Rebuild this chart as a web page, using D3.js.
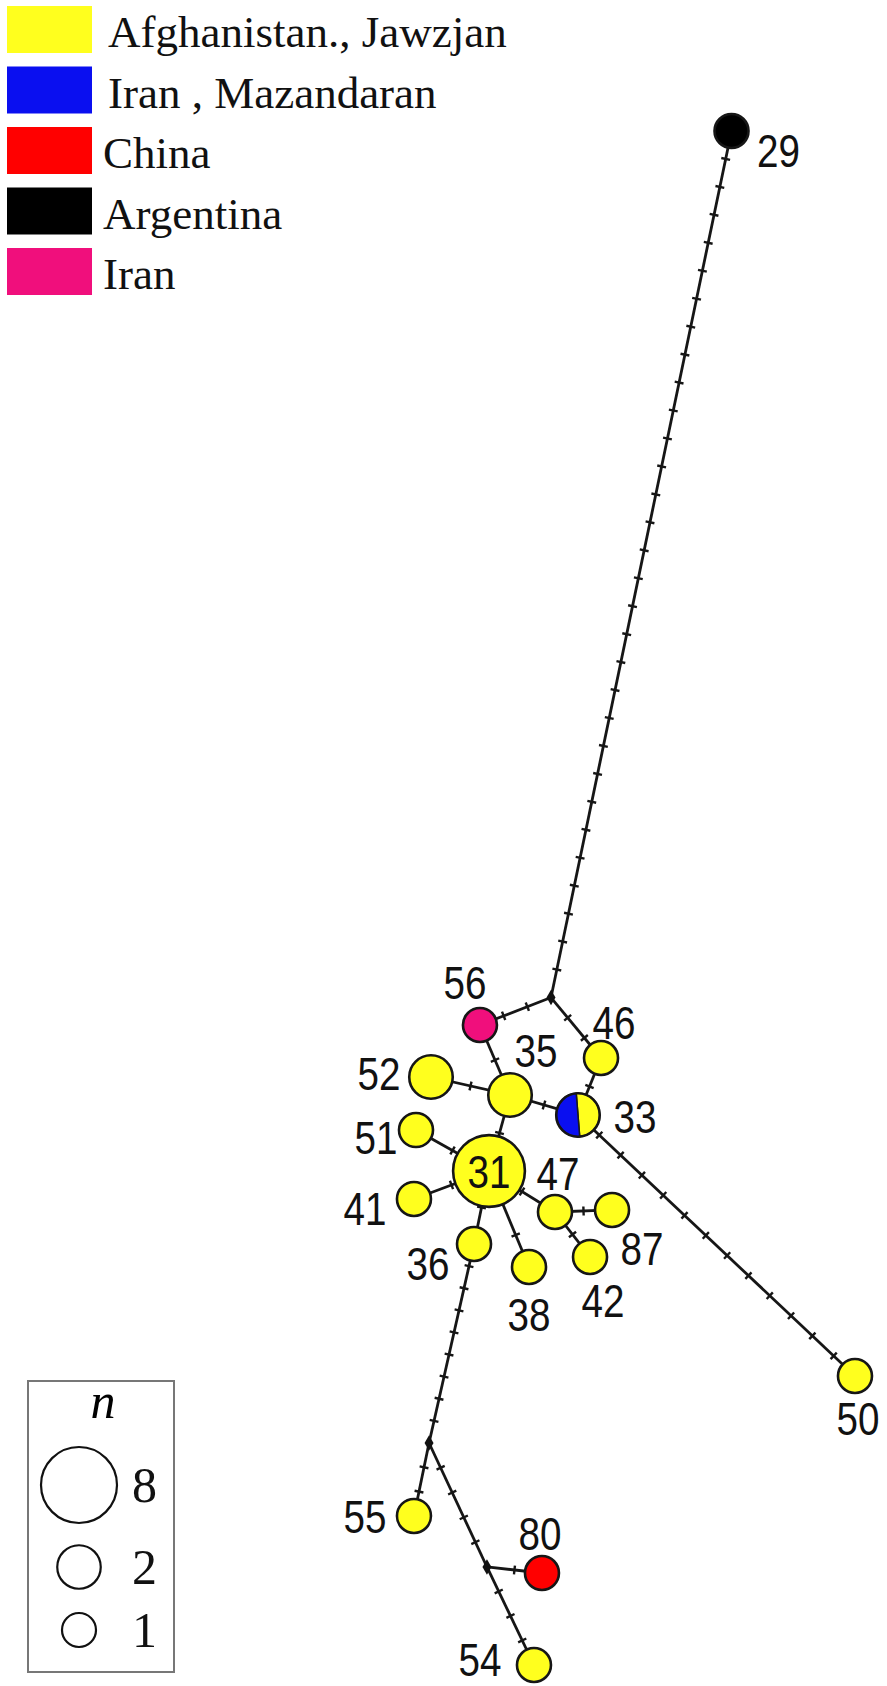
<!DOCTYPE html>
<html lang="en">
<head>
<meta charset="UTF-8">
<title>Haplotype network</title>
<script src="https://d3js.org/d3.v7.min.js"></script>
<style>
    body { margin: 0; background: #fff; }
    .num { font-family: "Liberation Sans", Arial, sans-serif; font-size: 46px; fill: #111; }
    .leg { font-family: "Liberation Serif", "DejaVu Serif", serif; font-size: 45px; fill: #111; }
</style>
</head>
<body>
<svg width="887" height="1686"></svg>
<script>
// regions (legend order) and their colours
const regions = ["Afghanistan., Jawzjan", "Iran , Mazandaran", "China", "Argentina", "Iran"];
const regionColors = ["#ffff1e", "#0a0ff0", "#ff0000", "#000000", "#f00f7c"];

// haplotypes and sample counts per region (same order as regions)
const haplotypes = ["29", "56", "46", "35", "52", "33", "51", "31", "41", "47", "87", "42", "36", "38", "50", "55", "80", "54"];
const counts = [
    [0, 0, 0, 1, 0],
    [0, 0, 0, 0, 1],
    [1, 0, 0, 0, 0],
    [2, 0, 0, 0, 0],
    [2, 0, 0, 0, 0],
    [1, 1, 0, 0, 0],
    [1, 0, 0, 0, 0],
    [7, 0, 0, 0, 0],
    [1, 0, 0, 0, 0],
    [1, 0, 0, 0, 0],
    [1, 0, 0, 0, 0],
    [1, 0, 0, 0, 0],
    [1, 0, 0, 0, 0],
    [1, 0, 0, 0, 0],
    [1, 0, 0, 0, 0],
    [1, 0, 0, 0, 0],
    [0, 0, 1, 0, 0],
    [1, 0, 0, 0, 0]
];
const medianVectors = ["mv1", "mv2", "mv3"];

// edges: [from, to, mutation steps]
const edges = [
    ["29", "mv1", 30],
    ["mv1", "56", 2],
    ["mv1", "46", 2],
    ["56", "35", 1],
    ["46", "33", 1],
    ["35", "33", 1],
    ["52", "35", 1],
    ["35", "31", 1],
    ["51", "31", 1],
    ["41", "31", 1],
    ["31", "47", 1],
    ["47", "87", 1],
    ["47", "42", 1],
    ["31", "36", 1],
    ["31", "38", 2],
    ["33", "50", 12],
    ["36", "mv2", 8],
    ["mv2", "55", 2],
    ["mv2", "mv3", 4],
    ["mv3", "80", 1],
    ["mv3", "54", 3]
];

const sizeLegend = [8, 2, 1];

// network layout (arbitrary layout units)
const layout = {
    "29": [82.47, 14.77], "mv1": [62.12, 112.46], "56": [54.11, 115.56], "46": [67.76, 119.28],
    "35": [57.50, 123.45], "52": [48.59, 121.42], "33": [65.16, 125.70], "51": [46.90, 127.40],
    "31": [55.13, 132.02], "41": [46.67, 135.17], "47": [62.57, 136.64], "87": [69.00, 136.41],
    "42": [66.52, 141.71], "36": [53.44, 140.25], "38": [59.64, 142.84], "50": [96.39, 155.13],
    "mv2": [48.37, 162.68], "55": [46.67, 170.91], "mv3": [54.90, 176.66], "80": [61.10, 177.34],
    "54": [60.20, 187.71]
};
// label placement relative to the node centre (px)
const labelOffset = {
    "29": [47, 19], "56": [-15, -43], "46": [13, -36], "35": [26, -45], "52": [-52, -4],
    "33": [57, 1], "51": [-40, 7], "31": [0, 0], "41": [-49, 9], "47": [3, -39],
    "87": [30, 38], "42": [13, 43], "36": [-46, 19], "38": [0, 47], "50": [3, 42],
    "55": [-49, 0], "80": [-2, -40], "54": [-54, -6]
};

const svg = d3.select("svg");
const x = d3.scaleLinear().domain([0, 100]).range([0, 887]);
const y = d3.scaleLinear().domain([0, 190]).range([0, 190 * 8.87]);
const r = d3.scalePow().exponent(0.5).domain([1, 8]).range([17, 38]);

const nodes = haplotypes.map((h, i) => ({
    id: h,
    counts: counts[i],
    n: d3.sum(counts[i]),
    px: x(layout[h][0]),
    py: y(layout[h][1])
}));
const mvs = medianVectors.map(m => ({ id: m, px: x(layout[m][0]), py: y(layout[m][1]) }));
const pos = {};
nodes.concat(mvs).forEach(d => { pos[d.id] = d; });

// edges
svg.append("g").selectAll("line")
    .data(edges)
    .enter()
    .append("line")
    .attr("x1", d => pos[d[0]].px)
    .attr("y1", d => pos[d[0]].py)
    .attr("x2", d => pos[d[1]].px)
    .attr("y2", d => pos[d[1]].py)
    .attr("stroke", "#161616")
    .attr("stroke-width", 2.8);

// mutation ticks
const ticks = [];
edges.forEach(e => {
    const a = pos[e[0]], b = pos[e[1]];
    const dx = b.px - a.px, dy = b.py - a.py;
    const len = Math.hypot(dx, dy);
    const nx = -dy / len, ny = dx / len;
    for (let i = 1; i <= e[2]; i++) {
        const t = i / (e[2] + 1);
        ticks.push({ cx: a.px + dx * t, cy: a.py + dy * t, nx, ny });
    }
});
svg.append("g").selectAll("line")
    .data(ticks)
    .enter()
    .append("line")
    .attr("x1", d => d.cx - d.nx * 4.5)
    .attr("y1", d => d.cy - d.ny * 4.5)
    .attr("x2", d => d.cx + d.nx * 4.5)
    .attr("y2", d => d.cy + d.ny * 4.5)
    .attr("stroke", "#161616")
    .attr("stroke-width", 2.4);

// median vectors
svg.append("g").selectAll("path")
    .data(mvs)
    .enter()
    .append("path")
    .attr("transform", d => `translate(${d.px},${d.py})`)
    .attr("d", d3.symbol(d3.symbolDiamond, 70))
    .attr("fill", "#111");

// haplotype pies
const pie = d3.pie().sort(null).value(v => v).startAngle(-0.08).endAngle(2 * Math.PI - 0.08);
const hap = svg.append("g").selectAll("g")
    .data(nodes)
    .enter()
    .append("g")
    .attr("transform", d => `translate(${d.px},${d.py})`);
hap.each(function (d) {
    const g = d3.select(this);
    const arc = d3.arc().innerRadius(0).outerRadius(r(d.n));
    g.selectAll("path")
        .data(pie(d.counts).filter(s => s.data > 0))
        .enter()
        .append("path")
        .attr("d", arc)
        .attr("fill", s => regionColors[s.index])
        .attr("stroke", "#1a1a1a")
        .attr("stroke-width", d.counts.filter(c => c > 0).length > 1 ? 1.5 : 0);
    g.append("circle")
        .attr("r", r(d.n))
        .attr("fill", "none")
        .attr("stroke", "#161616")
        .attr("stroke-width", 2.6);
});

// haplotype labels (condensed)
svg.append("g").selectAll("text")
    .data(nodes)
    .enter()
    .append("text")
    .attr("class", "num")
    .attr("transform", d => `translate(${d.px + labelOffset[d.id][0]},${d.py + labelOffset[d.id][1]}) scale(0.84,1)`)
    .attr("dy", "0.36em")
    .attr("text-anchor", "middle")
    .text(d => d.id);

// colour legend
const leg = svg.append("g").selectAll("g")
    .data(regions)
    .enter()
    .append("g")
    .attr("transform", (d, i) => `translate(7,${6 + i * 60.5})`);
leg.append("rect")
    .attr("width", 85)
    .attr("height", 47)
    .attr("fill", (d, i) => regionColors[i]);
leg.append("text")
    .attr("class", "leg")
    .attr("x", (d, i) => i < 2 ? 101 : 96)
    .attr("y", 41)
    .text(d => d);

// size legend
const sl = svg.append("g").attr("transform", "translate(28,1381)");
sl.append("rect")
    .attr("width", 146)
    .attr("height", 291)
    .attr("fill", "none")
    .attr("stroke", "#777")
    .attr("stroke-width", 2);
sl.append("text")
    .attr("x", 75)
    .attr("y", 37)
    .attr("text-anchor", "middle")
    .style("font-family", "'Liberation Serif', serif")
    .style("font-style", "italic")
    .style("font-size", "50px")
    .text("n");
const slY = d3.scaleOrdinal().domain(sizeLegend).range([104, 186, 249]);
sl.selectAll("circle")
    .data(sizeLegend)
    .enter()
    .append("circle")
    .attr("cx", 51)
    .attr("cy", d => slY(d))
    .attr("r", d => r(d))
    .attr("fill", "none")
    .attr("stroke", "#111")
    .attr("stroke-width", 2.2);
sl.selectAll(".sz")
    .data(sizeLegend)
    .enter()
    .append("text")
    .attr("class", "sz")
    .attr("x", 104)
    .attr("y", d => slY(d))
    .attr("dy", "0.34em")
    .style("font-family", "'Liberation Serif', serif")
    .style("font-size", "50px")
    .style("fill", "#111")
    .text(d => d);
</script>
</body>
</html>
